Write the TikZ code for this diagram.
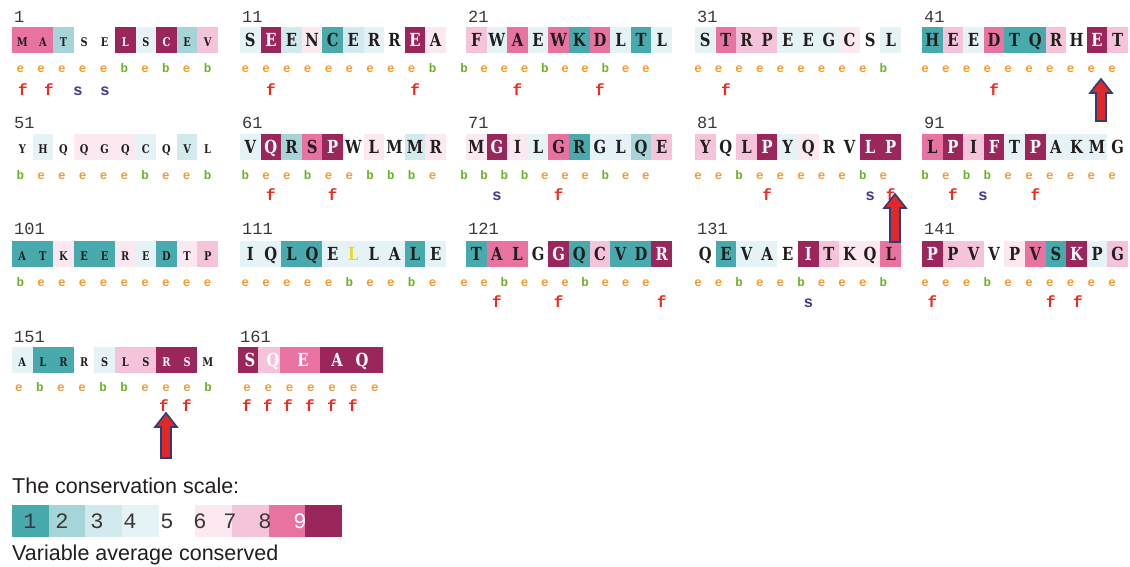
\documentclass[tikz,border=0pt]{standalone}
\usepackage{fontspec}
\setmainfont{Liberation Sans}
\newfontfamily\resfont{DejaVu Serif}[FakeStretch=0.82]
\newfontfamily\monofnt{Liberation Mono}
\definecolor{g1}{RGB}{72,170,172}
\definecolor{g2}{RGB}{165,213,217}
\definecolor{g3}{RGB}{210,234,238}
\definecolor{g4}{RGB}{229,242,246}
\definecolor{g5}{RGB}{255,255,255}
\definecolor{g6}{RGB}{251,232,240}
\definecolor{g7}{RGB}{246,196,218}
\definecolor{g8}{RGB}{232,115,160}
\definecolor{g9}{RGB}{155,38,92}
\colorlet{g10}{g4}
\definecolor{txt}{RGB}{35,30,30}
\definecolor{ylw}{RGB}{235,215,40}
\definecolor{cole}{RGB}{245,155,50}
\definecolor{colb}{RGB}{105,180,40}
\definecolor{colf}{RGB}{232,45,35}
\definecolor{cols}{RGB}{75,55,140}
\definecolor{numc}{RGB}{60,55,55}
\definecolor{arrred}{RGB}{225,40,40}
\definecolor{arrblue}{RGB}{45,60,125}
\tikzset{
  resbig/.style={font=\resfont\bfseries\fontsize{18}{18}\selectfont, inner sep=0pt},
  ressml/.style={font=\resfont\bfseries\fontsize{12}{12}\selectfont, inner sep=0pt},
  numlab/.style={font=\monofnt\fontsize{17}{17}\selectfont, text=numc, inner sep=0pt, anchor=base west},
  ebs/.style={font=\monofnt\bfseries\fontsize{12.5}{12.5}\selectfont, inner sep=0pt, anchor=base},
  fss/.style={font=\monofnt\bfseries\fontsize{16}{16}\selectfont, inner sep=0pt, anchor=base},
  leg/.style={font=\fontsize{21.5}{21.5}\selectfont, text=txt, inner sep=0pt, anchor=base west},
  legdig/.style={font=\monofnt\fontsize{22}{22}\selectfont, inner sep=0pt, anchor=base},
  uparrow/.style={fill=arrred, draw=arrblue, line width=1.6pt, line join=miter}
}
% residue group: #1 name, #2 x start, #3 box top, #4 style, #5 list letter/grade
\newcommand\resgrp[5]{%
  \foreach \L/\c [count=\i] in {#5}{%
    \pgfmathsetmacro\rxa{#2+20.6*(\i-1)}%
    \fill[g\c] (\rxa,#3) rectangle ++(20.9,26);
    \ifnum\c=9 \def\rtc{white}\else\ifnum\c=10 \def\rtc{ylw}\else\def\rtc{txt}\fi\fi
    \node[#4,text=\rtc,anchor=base] (#1-\i) at (\rxa+10.3,#3+19) {\L};
  }}
% e/b row: #1 name, #2 first centre, #3 spacing, #4 baseline, #5 list
\newcommand\ebrow[5]{%
  \foreach \t [count=\i] in {#5}{%
    \node[ebs,text=col\t] (#1-\i) at ({#2+#3*(\i-1)},#4) {\t};
  }}
% f/s row: #1 name, #2 baseline, #3 list x/letter
\newcommand\fsrow[3]{%
  \foreach \x/\t [count=\i] in {#3}{%
    \node[fss,text=col\t] (#1-\i) at (\x,#2) {\t};
  }}
\newcommand\uparr[3]{% x, tip, bottom
  \draw[uparrow] (#1,#2) -- (#1+11,#2+14) -- (#1+5,#2+14) -- (#1+5,#3) -- (#1-5,#3) -- (#1-5,#2+14) -- (#1-11,#2+14) -- cycle;}
\begin{document}
\begin{tikzpicture}[x=1pt,y=-1pt]
\useasboundingbox[fill=white] (0,0) rectangle (1130,566);

% ---------- row 1 ----------
\resgrp{ra1}{12}{27}{ressml}{M/8,A/8,T/2,S/5,E/5,L/9,S/4,C/9,E/2,V/7}
\resgrp{ra2}{240}{27}{resbig}{S/4,E/9,E/3,N/6,C/1,E/3,R/4,R/5,E/9,A/6}
\resgrp{ra3}{466}{27}{resbig}{F/7,W/4,A/8,E/4,W/8,K/1,D/8,L/4,T/1,L/4}
\resgrp{ra4}{695}{27}{resbig}{S/4,T/8,R/7,P/7,E/4,E/4,G/4,C/6,S/5,L/4}
\resgrp{ra5}{922}{27}{resbig}{H/1,E/7,E/4,D/8,T/1,Q/1,R/7,H/5,E/9,T/7}
\node[numlab] (na1) at (14,22) {1};
\node[numlab] (na2) at (242,22) {11};
\node[numlab] (na3) at (468,22) {21};
\node[numlab] (na4) at (697,22) {31};
\node[numlab] (na5) at (924,22) {41};
\ebrow{ea1}{20.3}{20.8}{72}{e,e,e,e,e,b,e,b,e,b}
\ebrow{ea2}{245.3}{20.8}{72}{e,e,e,e,e,e,e,e,e,b}
\ebrow{ea3}{464}{20.2}{72}{b,e,e,e,b,e,e,b,e,e}
\ebrow{ea4}{698}{20.6}{72}{e,e,e,e,e,e,e,e,e,b}
\ebrow{ea5}{925}{20.8}{72}{e,e,e,e,e,e,e,e,e,e}
\fsrow{fa}{95}{23/f,49/f,78/s,105/s,270.9/f,415.1/f,517.5/f,599.9/f,725.9/f,994.1/f,1097/f}

% ---------- row 2 ----------
\resgrp{rb1}{12}{134}{ressml}{Y/5,H/4,Q/5,Q/6,G/6,Q/6,C/4,Q/5,V/3,L/5}
\resgrp{rb2}{240}{134}{resbig}{V/4,Q/9,R/2,S/8,P/9,W/5,L/6,M/5,M/3,R/6}
\resgrp{rb3}{466}{134}{resbig}{M/6,G/9,I/6,L/4,G/8,R/1,G/4,L/4,Q/2,E/7}
\resgrp{rb4}{695}{134}{resbig}{Y/7,Q/5,L/7,P/9,Y/4,Q/6,R/5,V/5,L/9,P/9}
\resgrp{rb5}{922}{134}{resbig}{L/8,P/9,I/7,F/9,T/4,P/9,A/4,K/4,M/4,G/5}
\node[numlab] (nb1) at (14,128) {51};
\node[numlab] (nb2) at (242,128) {61};
\node[numlab] (nb3) at (468,128) {71};
\node[numlab] (nb4) at (697,128) {81};
\node[numlab] (nb5) at (924,128) {91};
\ebrow{eb1}{20.3}{20.8}{179}{b,e,e,e,e,e,b,e,e,b}
\ebrow{eb2}{245.3}{20.8}{179}{b,e,e,b,e,e,b,b,b,e}
\ebrow{eb3}{464}{20.2}{179}{b,b,b,b,e,e,e,b,e,e}
\ebrow{eb4}{698}{20.6}{179}{e,e,b,e,e,e,e,e,b,e}
\ebrow{eb5}{925}{20.8}{179}{b,e,b,b,e,e,e,e,e,e}
\fsrow{fb}{200}{270.9/f,332.7/f,496.9/s,558.7/f,767.1/f,870.1/s,890.7/f,952.9/f,983/s,1035.3/f}

% ---------- row 3 ----------
\resgrp{rc1}{12}{241}{ressml}{A/1,T/1,K/6,E/1,E/1,R/6,E/4,D/1,T/6,P/7}
\resgrp{rc2}{240}{241}{resbig}{I/4,Q/4,L/1,Q/1,E/4,L/10,L/4,A/4,L/1,E/4}
\resgrp{rc3}{466}{241}{resbig}{T/1,A/8,L/8,G/5,G/9,Q/1,C/7,V/1,D/1,R/9}
\resgrp{rc4}{695}{241}{resbig}{Q/5,E/1,V/4,A/4,E/5,I/9,T/7,K/6,Q/6,L/8}
\resgrp{rc5}{922}{241}{resbig}{P/9,P/7,V/7,V/5,P/6,V/8,S/1,K/9,P/4,G/7}
\node[numlab] (nc1) at (14,234) {101};
\node[numlab] (nc2) at (242,234) {111};
\node[numlab] (nc3) at (468,234) {121};
\node[numlab] (nc4) at (697,234) {131};
\node[numlab] (nc5) at (924,234) {141};
\ebrow{ec1}{20.3}{20.8}{286}{b,e,e,e,e,e,e,e,e,e}
\ebrow{ec2}{245.3}{20.8}{286}{e,e,e,e,e,b,e,e,b,e}
\ebrow{ec3}{464}{20.2}{286}{e,e,b,e,e,e,b,e,e,e}
\ebrow{ec4}{698}{20.6}{286}{e,e,b,e,e,b,e,e,e,b}
\ebrow{ec5}{925}{20.8}{286}{e,e,e,b,e,e,e,e,e,e}
\fsrow{fc}{307}{496.9/f,558.7/f,661.7/f,808.3/s,932.3/f,1051/f,1078/f}

% ---------- row 4 ----------
\resgrp{rd1}{12}{347}{ressml}{A/4,L/1,R/1,R/5,S/4,L/7,S/7,R/9,S/9,M/5}
\fill[g9] (238,347) rectangle (258.3,373);
\fill[g7] (258,347) rectangle (280.3,373);
\fill[g8] (280,347) rectangle (320.3,373);
\fill[g9] (320,347) rectangle (383,373);
\node[resbig,text=white,anchor=base] (rd2-1) at (250,366) {S};
\node[resbig,text=white,anchor=base] (rd2-2) at (273,366) {Q};
\node[resbig,text=white,anchor=base] (rd2-3) at (303,366) {E};
\node[resbig,text=white,anchor=base] (rd2-4) at (337,366) {A};
\node[resbig,text=white,anchor=base] (rd2-5) at (362,366) {Q};
\node[numlab] (nd1) at (14,342) {151};
\node[numlab] (nd2) at (240,342) {161};
\ebrow{ed1}{19}{21}{391}{e,b,e,e,b,b,e,e,e,b}
\ebrow{ed2}{247}{21.3}{391}{e,e,e,e,e,e,e}
\fsrow{fd}{411}{164/f,187/f,247/f,268/f,288/f,310/f,332/f,353/f}

% ---------- arrows ----------
\uparr{1101}{79}{121}
\uparr{895}{194}{242}
\uparr{166}{413}{458}

% ---------- legend ----------
\node[leg] (legtitle) at (12,493) {The conservation scale:};
\foreach \k in {1,...,9}{\fill[g\k] ({12+36.67*(\k-1)},505) rectangle ++(36.9,32);}
\foreach \d/\x in {1/30,2/62,3/97,4/130,5/167,6/200,7/230,8/265}{%
  \node[legdig,text=numc] (lg\d) at (\x,528) {\d};}
\node[legdig,text=white] (lg9) at (300,528) {9};
\node[leg] (legvar) at (12,560) {Variable average conserved};
\end{tikzpicture}
\end{document}
